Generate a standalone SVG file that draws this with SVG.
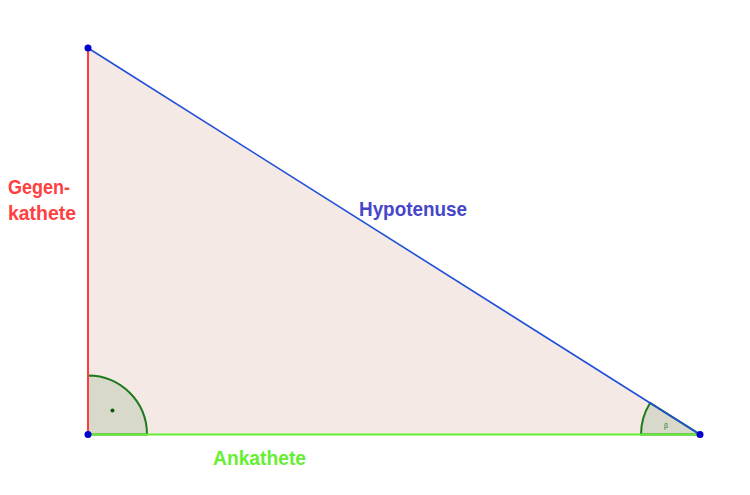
<svg xmlns="http://www.w3.org/2000/svg" width="750" height="495" viewBox="0 0 750 495">
<style>
.lbl{font-family:"Liberation Sans",Arial,sans-serif;font-weight:bold;font-size:20.5px}
.pt{fill:#0000d0}
.ang{fill:#d8d8cb;stroke:#1e7a1e;stroke-width:2}
</style>
<rect width="750" height="495" fill="#ffffff"/>
<g id="triangle">
<polygon points="88,48 88,434.5 700,434.5" fill="#f5e9e5"/>
</g>
<g id="angles">
<path class="ang" d="M147,434.5 A59,59 0 0 0 88,375.5 L88,434.5 Z" stroke-linejoin="round"/>
<circle cx="112.5" cy="410.5" r="2" fill="#0a5a0a"/>
<path class="ang" d="M641,434.5 A59,59 0 0 1 650.1,403 L700,434.5 Z"/>
<text x="666" y="428" font-family="Liberation Sans,Arial,sans-serif" font-size="7" fill="#1e7a1e" text-anchor="middle">β</text>
</g>
<g id="connectors">
<line x1="88" y1="48" x2="88" y2="434.5" stroke="#ff3b3b" stroke-width="2"/>
<line x1="88" y1="434.5" x2="700" y2="434.5" stroke="#66ee33" stroke-width="2"/>
<line x1="88" y1="48" x2="700" y2="434.5" stroke="#1f4fd8" stroke-width="1.6"/>
</g>
<g id="points">
<circle class="pt" cx="88" cy="48" r="3.5"/>
<circle class="pt" cx="88" cy="434.5" r="3.5"/>
<circle class="pt" cx="700" cy="434.5" r="3.5"/>
</g>
<g id="labels">
<text class="lbl" x="8" y="194" fill="#ff4040" textLength="62" lengthAdjust="spacingAndGlyphs">Gegen-</text>
<text class="lbl" x="8" y="220" fill="#ff4040" textLength="68" lengthAdjust="spacingAndGlyphs">kathete</text>
<text class="lbl" x="359" y="216" fill="#4646c8" textLength="108" lengthAdjust="spacingAndGlyphs">Hypotenuse</text>
<text class="lbl" x="213" y="465" fill="#66ee33" textLength="93" lengthAdjust="spacingAndGlyphs">Ankathete</text>
</g>
</svg>
